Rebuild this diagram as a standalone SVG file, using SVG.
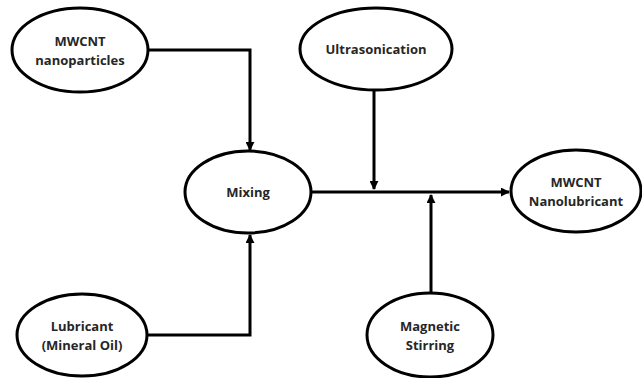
<svg xmlns="http://www.w3.org/2000/svg" width="642" height="378" viewBox="0 0 642 378">
<style>
.n{fill:#fff;stroke:#000;stroke-width:3}
.t{font-family:"Open Sans","Noto Sans",sans-serif;font-weight:bold;font-size:13px;fill:#262626;text-anchor:middle}
.c{fill:none;stroke:#000;stroke-width:3}
</style>
<defs>
<marker id="a" viewBox="0 0 10 10" refX="9" refY="5" markerWidth="3" markerHeight="3" orient="auto" markerUnits="strokeWidth">
<path d="M0,0L10,5L0,10z" fill="#000"/>
</marker>
</defs>
<rect width="642" height="378" fill="#fff"/>
<g id="connectors">
<path class="c" d="M148,50H250V150" marker-end="url(#a)"/>
<path class="c" d="M147,335H250V235" marker-end="url(#a)"/>
<path class="c" d="M311,192H509" marker-end="url(#a)"/>
<path class="c" d="M374,90V189" marker-end="url(#a)"/>
<path class="c" d="M431,293V195" marker-end="url(#a)"/>
</g>
<g id="mwcnt"><ellipse class="n" cx="80" cy="50" rx="68" ry="42"/><text class="t" x="80" y="46">MWCNT</text><text class="t" x="80" y="65">nanoparticles</text></g>
<g id="ultra"><ellipse class="n" cx="376" cy="49" rx="76" ry="41"/><text class="t" x="376" y="54">Ultrasonication</text></g>
<g id="mixing"><ellipse class="n" cx="248" cy="192" rx="63" ry="41"/><text class="t" x="248" y="197">Mixing</text></g>
<g id="nanolub"><ellipse class="n" cx="576" cy="191" rx="65" ry="41"/><text class="t" x="576" y="187">MWCNT</text><text class="t" x="576" y="206">Nanolubricant</text></g>
<g id="lub"><ellipse class="n" cx="82" cy="335" rx="65" ry="41"/><text class="t" x="82" y="331">Lubricant</text><text class="t" x="82" y="350">(Mineral Oil)</text></g>
<g id="mag"><ellipse class="n" cx="430" cy="335" rx="63" ry="42"/><text class="t" x="430" y="331">Magnetic</text><text class="t" x="430" y="350">Stirring</text></g>
</svg>
